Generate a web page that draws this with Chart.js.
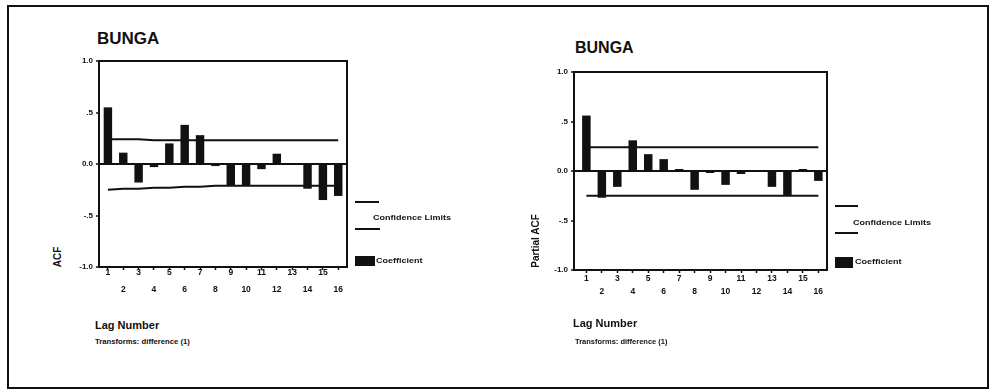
<!DOCTYPE html>
<html>
<head>
<meta charset="utf-8">
<title>BUNGA ACF / Partial ACF</title>
<script src="https://cdn.jsdelivr.net/npm/chart.js@4.4.0/dist/chart.umd.min.js"></script>
<style>
	body { margin: 0; background: #fff; font-family: "Liberation Sans", Arial, sans-serif; color: #111; }
	#page { position: relative; width: 989px; height: 390px; overflow: hidden; }
	#frame { position: absolute; left: 7px; top: 5px; width: 982px; height: 384px; border: 2px solid #111; box-sizing: border-box; }
	.box { position: absolute; }
	.txt { position: absolute; font-weight: bold; white-space: nowrap; line-height: 1; transform: translateY(-50%); }
	.rot { position: absolute; font-weight: bold; white-space: nowrap; line-height: 1; font-size: 10px; transform: translate(-50%, -50%) rotate(-90deg); }
	.leg-line { position: absolute; height: 2px; background: #111; }
	.leg-key { position: absolute; background: #111; }
	.leg-txt { font-size: 9px; transform: translateY(-50%) scaleY(.75); }
</style>
</head>
<body>
<div id="page">
	<div id="frame"></div>

	<!-- ACF panel -->
	<div class="txt" style="left:97px; top:38px; font-size:17px;">BUNGA</div>
	<div class="rot" style="left:58px; top:257px;">ACF</div>
	<div class="box" style="left:60px; top:50px; width:300px; height:260px;"><canvas id="acfChart" width="300" height="260"></canvas></div>
	<div class="leg-line" style="left:355px; top:201px; width:24px;"></div>
	<div class="txt leg-txt" style="left:373px; top:218px;">Confidence Limits</div>
	<div class="leg-line" style="left:355px; top:228px; width:25px;"></div>
	<div class="leg-key" style="left:355px; top:256px; width:20px; height:10px;"></div>
	<div class="txt leg-txt" style="left:376px; top:261px;">Coefficient</div>
	<div class="txt" style="left:95px; top:325px; font-size:11px;">Lag Number</div>
	<div class="txt" style="left:95px; top:342px; font-size:7.7px;">Transforms: difference (1)</div>

	<!-- Partial ACF panel -->
	<div class="txt" style="left:575px; top:48px; font-size:16px;">BUNGA</div>
	<div class="rot" style="left:536px; top:241px;">Partial ACF</div>
	<div class="box" style="left:530px; top:55px; width:310px; height:260px;"><canvas id="pacfChart" width="310" height="260"></canvas></div>
	<div class="leg-line" style="left:835px; top:205px; width:23px;"></div>
	<div class="txt leg-txt" style="left:853px; top:223px;">Confidence Limits</div>
	<div class="leg-line" style="left:835px; top:232px; width:23px;"></div>
	<div class="leg-key" style="left:835px; top:257px; width:18px; height:11px;"></div>
	<div class="txt leg-txt" style="left:855px; top:262px;">Coefficient</div>
	<div class="txt" style="left:573px; top:323px; font-size:11px;">Lag Number</div>
	<div class="txt" style="left:575px; top:342px; font-size:7.5px;">Transforms: difference (1)</div>
</div>

<script>
// lags and their axis labels
var lags = [1, 2, 3, 4, 5, 6, 7, 8, 9, 10, 11, 12, 13, 14, 15, 16];
var lagLabels = ['1', '2', '3', '4', '5', '6', '7', '8', '9', '10', '11', '12', '13', '14', '15', '16'];

// autocorrelation of BUNGA, differenced once
var acfValues = [0.55, 0.11, -0.18, -0.03, 0.20, 0.38, 0.28, -0.02, -0.21, -0.21, -0.05, 0.10, 0.01, -0.24, -0.35, -0.31];
var acfUpper = [0.24, 0.24, 0.24, 0.23, 0.23, 0.23, 0.23, 0.23, 0.23, 0.23, 0.23, 0.23, 0.23, 0.23, 0.23, 0.23];
var acfLower = [-0.25, -0.24, -0.24, -0.23, -0.23, -0.22, -0.22, -0.21, -0.21, -0.21, -0.21, -0.21, -0.21, -0.21, -0.21, -0.21];

// partial autocorrelation
var pacfValues = [0.56, -0.27, -0.16, 0.31, 0.17, 0.12, 0.02, -0.19, -0.02, -0.14, -0.03, -0.01, -0.16, -0.25, 0.02, -0.10];
var pacfUpper = [0.24, 0.24, 0.24, 0.24, 0.24, 0.24, 0.24, 0.24, 0.24, 0.24, 0.24, 0.24, 0.24, 0.24, 0.24, 0.24];
var pacfLower = [-0.25, -0.25, -0.25, -0.25, -0.25, -0.25, -0.25, -0.25, -0.25, -0.25, -0.25, -0.25, -0.25, -0.25, -0.25, -0.25];

// y axis ticks
var yTickValues = [1, 0.5, 0, -0.5, -1];
var yTickLabels = ['1.0', '.5', '0.0', '-.5', '-1.0'];

function points(values) {
	return lags.map(function(lag, i) { return { x: lag, y: values[i] }; });
}

// box round the plot area
var frameBox = {
	id: 'frameBox',
	afterDatasetsDraw: function(chart) {
		var a = chart.chartArea;
		var ctx = chart.ctx;
		ctx.save();
		ctx.strokeStyle = '#111';
		ctx.lineWidth = 2;
		ctx.strokeRect(a.left, a.top, a.right - a.left, a.bottom - a.top);
		ctx.restore();
	}
};

function drawCorrelogram(id, values, upper, lower, p) {
	var ctx = document.getElementById(id).getContext('2d');
	return new Chart(ctx, {
		type: 'bar',
		data: {
			datasets: [{
				type: 'line',
				data: points(upper),
				borderColor: '#111',
				borderWidth: 2,
				pointRadius: 0,
				fill: false
			}, {
				type: 'line',
				data: points(lower),
				borderColor: '#111',
				borderWidth: 2,
				pointRadius: 0,
				fill: false
			}, {
				data: points(values),
				backgroundColor: '#111',
				borderWidth: 0,
				barPercentage: 0.55,
				categoryPercentage: 1
			}]
		},
		options: {
			responsive: false,
			animation: false,
			layout: { padding: { top: p.padTop, right: p.padRight, left: 0, bottom: 0 } },
			plugins: { legend: { display: false }, tooltip: { enabled: false } },
			scales: {
				x: {
					type: 'linear',
					min: p.xMin,
					max: p.xMax,
					offset: false,
					border: { display: false },
					grid: { offset: false, drawOnChartArea: false, tickLength: 3, tickColor: '#111', tickWidth: 1.5 },
					afterBuildTicks: function(scale) {
						scale.ticks = lags.map(function(v) { return { value: v }; });
					},
					afterFit: function(scale) { scale.height = p.xAxisHeight; },
					ticks: {
						color: '#111',
						padding: p.tickPad,
						maxRotation: 0,
						autoSkip: false,
						font: { family: 'Liberation Sans', size: 8.5, weight: 'bold', lineHeight: p.rowGap / 2 + 'px' },
						callback: function(value) {
							var label = lagLabels[lags.indexOf(value)];
							// odd lags on the first row, even lags on the second
							return value % 2 ? label : ['', '', label];
						}
					}
				},
				y: {
					min: -1,
					max: 1,
					border: { display: false },
					grid: {
						color: function(c) { return c.tick && c.tick.value === 0 ? '#111' : 'rgba(0,0,0,0)'; },
						lineWidth: 2,
						tickLength: 3,
						tickColor: '#111',
						tickWidth: 1.5
					},
					afterBuildTicks: function(scale) {
						scale.ticks = yTickValues.map(function(v) { return { value: v }; });
					},
					afterFit: function(scale) { scale.width = p.yAxisWidth; },
					ticks: {
						color: '#111',
						padding: 3,
						font: { family: 'Liberation Sans', size: 8, weight: 'bold' },
						callback: function(value) { return yTickLabels[yTickValues.indexOf(value)]; }
					}
				}
			}
		},
		plugins: [frameBox]
	});
}

drawCorrelogram('acfChart', acfValues, acfUpper, acfLower, {
	padTop: 11, padRight: 13, yAxisWidth: 39, xAxisHeight: 43,
	xMin: 0.42, xMax: 16.57, rowGap: 17, tickPad: -2
});

drawCorrelogram('pacfChart', pacfValues, pacfUpper, pacfLower, {
	padTop: 17, padRight: 13, yAxisWidth: 44, xAxisHeight: 45,
	xMin: 0.2, xMax: 16.56, rowGap: 13, tickPad: 2
});
</script>
</body>
</html>
